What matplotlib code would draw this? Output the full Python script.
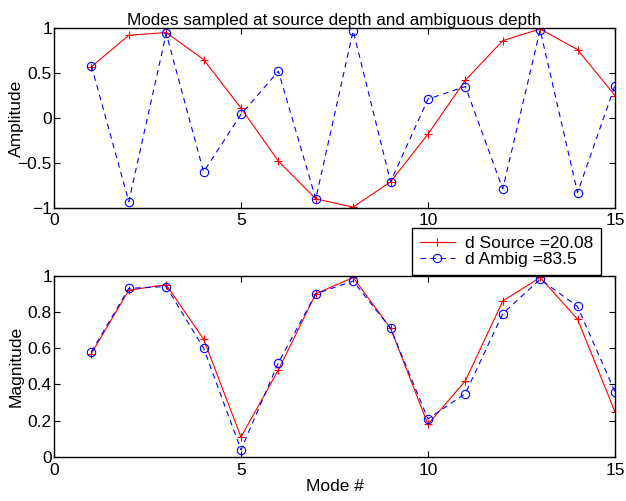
import numpy as np
import matplotlib
matplotlib.use("Agg")
import matplotlib.pyplot as plt

plt.rcParams['font.family'] = ['Liberation Sans', 'DejaVu Sans']

# mode numbers and sampled mode amplitudes
modes = np.arange(1, 16)
src_amp = [0.57, 0.92, 0.95, 0.65, 0.11, -0.48, -0.90, -0.99, -0.71, -0.18,
           0.42, 0.86, 0.99, 0.76, 0.25]
amb_amp = [0.58, -0.93, 0.94, -0.60, 0.04, 0.52, -0.90, 0.97, -0.71, 0.21,
           0.35, -0.79, 0.98, -0.83, 0.36]
d_source = 20.08
d_ambig = 83.5

fig = plt.figure(figsize=(6.26, 5.01), dpi=100)

ax1 = fig.add_axes([0.0863, 0.585, 0.896, 0.359])
ax1.plot(modes, src_amp, 'r-+', lw=0.8, ms=6, mew=0.8)
ax1.plot(modes, amb_amp, 'b--o', lw=0.8, ms=6, mew=0.8, mfc='none', dashes=(5, 4))
ax1.set_xlim(0, 15)
ax1.set_ylim(-1, 1)
ax1.set_xticks([0, 5, 10, 15])
ax1.set_yticks([-1, -0.5, 0, 0.5, 1])
ax1.set_yticklabels(['\u22121', '\u22120.5', '0', '0.5', '1'])
ax1.set_ylabel('Amplitude', fontsize=12.5)
ax1.yaxis.set_label_coords(-0.054, 0.5)
ax1.set_title('Modes sampled at source depth and ambiguous depth', fontsize=12.3, pad=2)

ax2 = fig.add_axes([0.0863, 0.0878, 0.896, 0.362])
ax2.plot(modes, np.abs(src_amp), 'r-+', lw=0.8, ms=6, mew=0.8,
         label='d Source =%.2f' % d_source)
ax2.plot(modes, np.abs(amb_amp), 'b--o', lw=0.8, ms=6, mew=0.8, mfc='none',
         dashes=(5, 4), label='d Ambig =%.1f' % d_ambig)
ax2.set_xlim(0, 15)
ax2.set_ylim(0, 1)
ax2.set_xticks([0, 5, 10, 15])
ax2.set_yticks([0, 0.2, 0.4, 0.6, 0.8, 1])
ax2.set_yticklabels(['0', '0.2', '0.4', '0.6', '0.8', '1'])
ax2.set_ylabel('Magnitude', fontsize=12.5)
ax2.yaxis.set_label_coords(-0.054, 0.5)
ax2.set_xlabel('Mode #', fontsize=12.5, labelpad=1)
leg = ax2.legend(loc='lower right', bbox_to_anchor=(601 / 626, 1 - 275 / 501),
                 bbox_transform=fig.transFigure, borderaxespad=0,
                 fontsize=12.5, fancybox=False, edgecolor='black', framealpha=1,
                 handlelength=2.0, handletextpad=0.6, borderpad=0.45,
                 labelspacing=0.05)
leg.get_frame().set_linewidth(1.0)

for ax in (ax1, ax2):
    ax.tick_params(direction='in', top=True, right=True, labelsize=12.5, length=4)
    ax.tick_params(axis='y', pad=1.5)
    ax.tick_params(axis='x', pad=4)
    for s in ax.spines.values():
        s.set_linewidth(1.0)

fig.savefig('out.png', dpi=100)
